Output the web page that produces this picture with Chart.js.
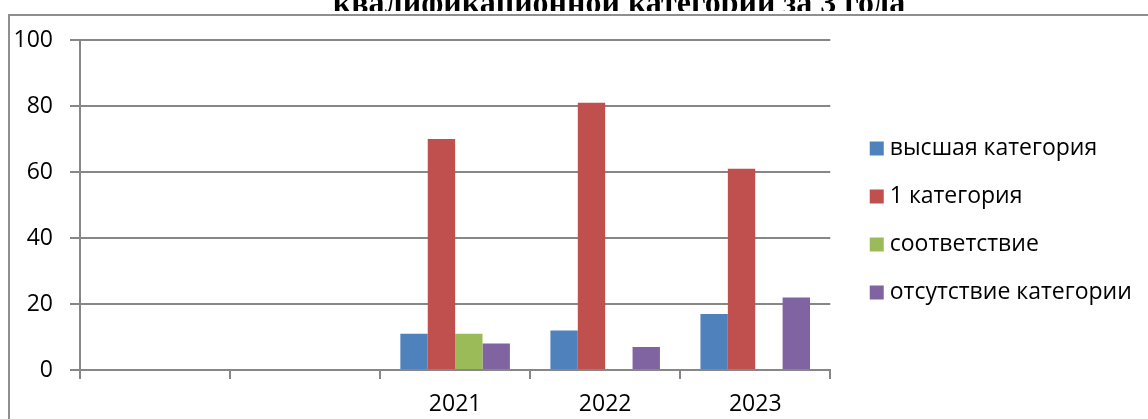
<!DOCTYPE html>
<html lang="ru">
<head>
<meta charset="utf-8">
<title>Квалификационные категории за 3 года</title>
<script src="https://cdn.jsdelivr.net/npm/chart.js@4.4.1/dist/chart.umd.min.js"></script>
<style>
  html, body { margin: 0; padding: 0; background: #fff; overflow: hidden; }
  #wrap { width: 1148px; height: 419px; }
</style>
</head>
<body>
<div id="wrap"><canvas id="qualChart" width="1148" height="419"></canvas></div>
<script>
var titleText = "квалификационной категории за 3 года";
var years = ["", "", "2021", "2022", "2023"];
var seriesNames = ["высшая категория", "1 категория", "соответствие", "отсутствие категории"];
var seriesColors = ["#4F81BD", "#C0504D", "#9BBB59", "#8064A2"];
var highest = [null, null, 11, 12, 17];
var firstCat = [null, null, 70, 81, 61];
var matching = [null, null, 11, 0, 0];
var noCategory = [null, null, 8, 7, 22];
var yTicks = [0, 20, 40, 60, 80, 100];

var lineGray = "#878787";
var textFont = { family: "'Open Sans', 'Noto Sans', sans-serif", size: 23 };

// outer frame + title strip (only the lower part of the title is visible)
var framePlugin = {
  id: "frame",
  beforeDraw: function (chart) {
    var ctx = chart.ctx;
    ctx.save();
    ctx.strokeStyle = "#8f8f8f";
    ctx.lineWidth = 2;
    ctx.strokeRect(9, 15, chart.width + 20, chart.height + 20);
    ctx.beginPath();
    ctx.rect(0, 0, chart.width, 11);
    ctx.clip();
    ctx.fillStyle = "#000";
    ctx.font = "bold 32px 'Liberation Serif', 'DejaVu Serif', serif";
    ctx.textAlign = "center";
    ctx.fillText(titleText, 619, 13);
    ctx.restore();
  },
  afterLayout: function (chart) {
    // wider gap between plot and legend, legend a bit higher
    var lg = chart.legend;
    lg.left += 20;
    lg.right = chart.width;
    lg.top -= 9;
    lg.bottom -= 9;
  }
};

var values = [highest, firstCat, matching, noCategory];
var datasets = seriesNames.map(function (name, i) {
  return {
    label: name,
    data: values[i],
    backgroundColor: seriesColors[i],
    borderWidth: 0,
    categoryPercentage: 0.73,
    barPercentage: 1
  };
});

var ctx = document.getElementById("qualChart").getContext("2d");
var qualChart = new Chart(ctx, {
  type: "bar",
  data: { labels: years, datasets: datasets },
  plugins: [framePlugin],
  options: {
    responsive: false,
    animation: false,
    layout: { padding: { top: 40, left: 0, right: 41, bottom: 0 } },
    plugins: {
      tooltip: { enabled: false },
      legend: {
        position: "right",
        labels: {
          color: "#000",
          font: textFont,
          usePointStyle: true,
          pointStyle: "rect",
          boxWidth: 3,
          boxHeight: 14,
          padding: 25
        }
      }
    },
    scales: {
      x: {
        grid: { drawOnChartArea: false, color: lineGray, lineWidth: 2, tickLength: 9, offset: true },
        border: { color: lineGray, width: 2 },
        ticks: { color: "#000", font: textFont, padding: 12, maxRotation: 0, autoSkip: false },
        afterFit: function (scale) { scale.height = 49; }
      },
      y: {
        min: 0,
        max: 100,
        afterBuildTicks: function (scale) {
          scale.ticks = yTicks.map(function (v) { return { value: v }; });
        },
        ticks: { color: "#000", font: textFont, padding: 17 },
        grid: { color: lineGray, lineWidth: 2, tickLength: 10 },
        border: { color: lineGray, width: 2 },
        afterFit: function (scale) { scale.width = 80; }
      }
    }
  }
});
</script>
</body>
</html>
